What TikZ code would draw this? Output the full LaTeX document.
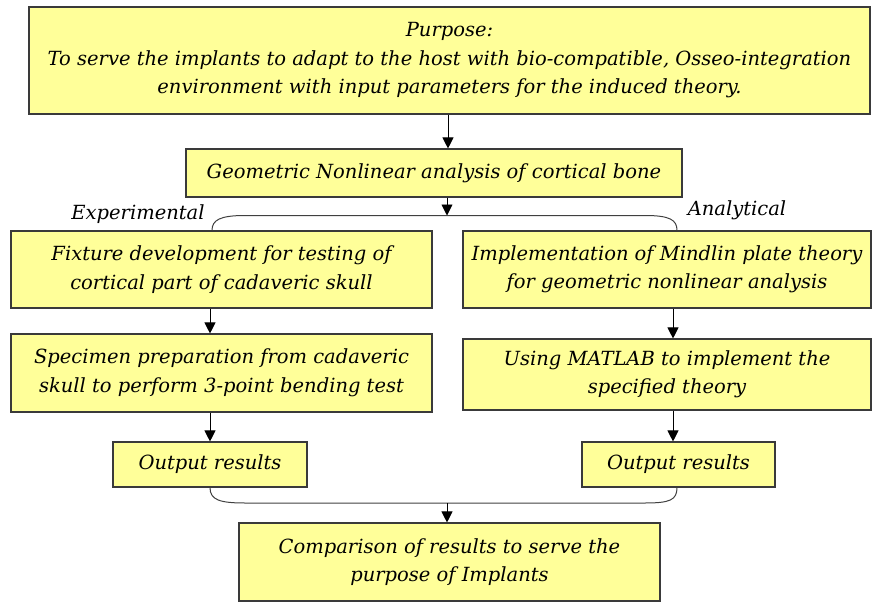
\documentclass[tikz,border=0pt]{standalone}
\usepackage{fontspec}
\setmainfont{DejaVu Serif}
\usetikzlibrary{arrows.meta}
\definecolor{boxfill}{HTML}{FFFF99}
\definecolor{boxline}{HTML}{3A3A3A}
\begin{document}
\begin{tikzpicture}[x=1pt,y=-1pt,
  box/.style={draw=boxline,line width=1.1pt,fill=boxfill,inner sep=0pt,align=center,
              font=\fontsize{19.5}{28.5}\selectfont\itshape},
  flow/.style={draw=black,line width=0.9pt,-{Triangle[width=11pt,length=11pt]}},
  bracket/.style={draw=black!75,line width=1pt},
  tag/.style={font=\fontsize{19.5}{24}\selectfont\itshape,inner sep=0pt}]
\useasboundingbox (0,0) rectangle (873,602);

% process boxes
\node[box,minimum width=841pt,minimum height=107pt] (purpose) at (449.5,60.5)
  {Purpose:\\To serve the implants to adapt to the host with bio-compatible, Osseo-integration\\environment with input parameters for the induced theory.};
\node[box,minimum width=496pt,minimum height=48pt] (geo) at (434,173)
  {Geometric Nonlinear analysis of cortical bone};
\node[box,minimum width=421pt,minimum height=77pt] (fix) at (221.5,269.5)
  {Fixture development for testing of\\cortical part of cadaveric skull};
\node[box,minimum width=408pt,minimum height=77pt] (mind) at (667,269.5)
  {Implementation of Mindlin plate theory\\for geometric nonlinear analysis};
\node[box,minimum width=421pt,minimum height=78pt] (spec) at (221.5,373)
  {Specimen preparation from cadaveric\\skull to perform 3-point bending test};
\node[box,minimum width=408pt,minimum height=71pt] (matlab) at (667,374.5)
  {Using MATLAB to implement the\\specified theory};
\node[box,minimum width=194pt,minimum height=45pt] (out1) at (210,464.5) {Output results};
\node[box,minimum width=193pt,minimum height=45pt] (out2) at (678.5,464.5) {Output results};
\node[box,minimum width=421pt,minimum height=78pt] (comp) at (449.5,562)
  {Comparison of results to serve the\\purpose of Implants};

% branch labels
\node[tag] (exp) at (138,214) {Experimental};
\node[tag] (ana) at (737,210) {Analytical};

% column guides
\coordinate (ax) at (448,0);
\coordinate (lx) at (210,0);
\coordinate (rx) at (673,0);
\coordinate (split) at (447,215.5);
\coordinate (merge) at (447,503);
\coordinate (tl) at (212,0);
\coordinate (tr) at (677,0);

% main flow
\draw[flow] (purpose.south -| ax) -- (geo.north -| ax);
\draw[flow] (geo.south -| split) -- (split);

% split into the two branches
\draw[bracket] (fix.north -| tl) .. controls (212,220) and (220,215.5) .. (245,215.5)
  -- (645,215.5) .. controls (670,215.5) and (677,220) .. (mind.north -| tr);

% branch flows
\draw[flow] (fix.south -| lx) -- (spec.north -| lx);
\draw[flow] (mind.south -| rx) -- (matlab.north -| rx);
\draw[flow] (spec.south -| lx) -- (out1.north -| lx);
\draw[flow] (matlab.south -| rx) -- (out2.north -| rx);

% merge of the results
\draw[bracket] (out1.south -| lx) .. controls (210,500) and (220,503) .. (245,503)
  -- (645,503) .. controls (670,503) and (677,500) .. (out2.south -| tr);
\draw[flow] (merge) -- (comp.north -| merge);
\end{tikzpicture}
\end{document}
